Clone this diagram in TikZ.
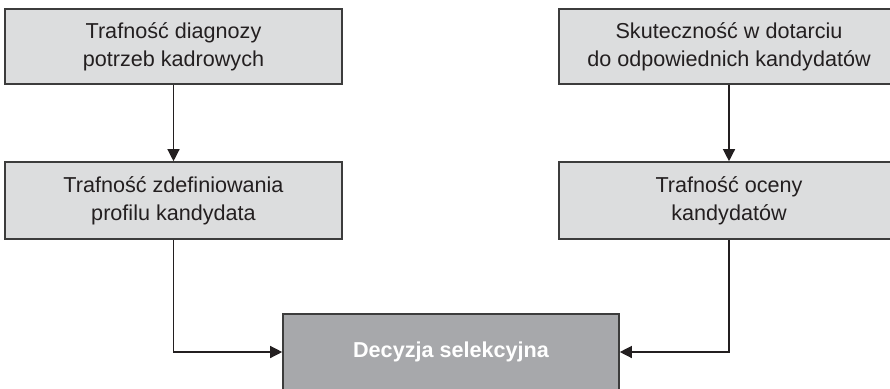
\documentclass[tikz,border=0pt]{standalone}
\usepackage{fontspec}
\setmainfont{Liberation Sans}
\usetikzlibrary{arrows.meta}
\definecolor{boxfill}{HTML}{DCDDDE}
\definecolor{decfill}{HTML}{A7A8AB}
\definecolor{boxline}{HTML}{3C3C3C}
\definecolor{txt}{HTML}{231F20}
\begin{document}
\begin{tikzpicture}[x=1pt, y=-1pt]

        \clip (0, 0) rectangle (890, 388);

        % === Czynniki wejsciowe ===
        \node[draw=boxline, line width=1.6pt, fill=boxfill, minimum width=337pt, minimum height=75pt, align=center, text=txt, font=\fontsize{21.6}{28}\selectfont] (diag) at (173.5, 46.5) {Trafność diagnozy\\potrzeb kadrowych};
        \node[draw=boxline, line width=1.6pt, fill=boxfill, minimum width=340pt, minimum height=75pt, align=center, text=txt, font=\fontsize{21.6}{28}\selectfont] (dotar) at (729, 46.5) {Skuteczność w dotarciu\\do odpowiednich kandydatów};

        \node[draw=boxline, line width=1.6pt, fill=boxfill, minimum width=337pt, minimum height=77pt, align=center, text=txt, font=\fontsize{21.6}{28}\selectfont] (profil) at (173.5, 200.5) {Trafność zdefiniowania\\profilu kandydata};
        \node[draw=boxline, line width=1.6pt, fill=boxfill, minimum width=340pt, minimum height=77pt, align=center, text=txt, font=\fontsize{21.6}{28}\selectfont] (ocena) at (729, 200.5) {Trafność oceny\\kandydatów};

        % === Decyzja ===
        \node[draw=boxline, line width=1.6pt, fill=decfill, minimum width=336pt, minimum height=76pt, text=white, font=\fontsize{21.6}{28}\selectfont\bfseries] (dec) at (451, 352) {Decyzja selekcyjna};

        % Strzalki
        \draw[-{Triangle[length=12pt, width=12pt]}, line width=1.3pt, txt] (diag) -- (profil);
        \draw[-{Triangle[length=12pt, width=12pt]}, line width=1.3pt, txt] (dotar) -- (ocena);
        \draw[-{Triangle[length=12pt, width=12pt]}, line width=1.3pt, txt] (profil.south) |- (dec.west);
        \draw[-{Triangle[length=12pt, width=12pt]}, line width=1.3pt, txt] (ocena.south) |- (dec.east);

    \end{tikzpicture}
\end{document}
